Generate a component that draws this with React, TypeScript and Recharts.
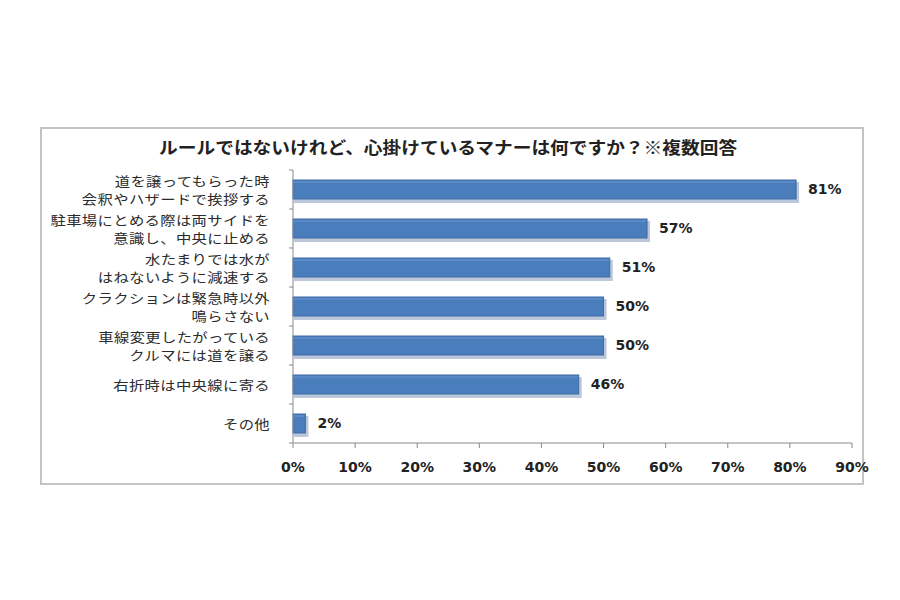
import { BarChart, Bar, XAxis, YAxis, LabelList } from "recharts"

const categories = [
  "道を譲ってもらった時\n会釈やハザードで挨拶する",
  "駐車場にとめる際は両サイドを\n意識し、中央に止める",
  "水たまりでは水が\nはねないように減速する",
  "クラクションは緊急時以外\n鳴らさない",
  "車線変更したがっている\nクルマには道を譲る",
  "右折時は中央線に寄る",
  "その他",
]
const values = [81, 57, 51, 50, 50, 46, 2]
const xTicks = [0, 10, 20, 30, 40, 50, 60, 70, 80, 90]
const title = "ルールではないけれど、心掛けているマナーは何ですか？※複数回答"

const data = categories.map((name, i) => ({ name, value: values[i] }))

const FONT = "'Noto Sans CJK JP', 'Noto Sans', sans-serif"
const NUM_FONT = "'DejaVu Sans', 'Noto Sans', sans-serif"
const BAND = 39

function CategoryTick(props: any) {
  const { x, y, payload, index } = props
  const lines = String(payload.value).split("\n")
  const lh = 18
  const start = y - ((lines.length - 1) * lh) / 2
  const tx = x - 15
  return (
    <g>
      <line x1={x + 4} x2={x + 8} y1={y - BAND / 2} y2={y - BAND / 2} stroke="#8a8a8a" />
      {index === categories.length - 1 && (
        <line x1={x + 4} x2={x + 8} y1={y + BAND / 2} y2={y + BAND / 2} stroke="#8a8a8a" />
      )}
      <g transform={`translate(${tx},0) scale(1.18,1) translate(${-tx},0)`}>
        {lines.map((l, i) => (
          <text
            key={i}
            x={tx}
            y={start + i * lh}
            textAnchor="end"
            dominantBaseline="central"
            fontSize={13}
            fill="#2b2b2b"
            fontFamily={FONT}
            letterSpacing={0.3}
          >
            {l}
          </text>
        ))}
      </g>
    </g>
  )
}

function ShadowBar(props: any) {
  const { x, y, width, height } = props
  if (!width || width <= 0) return null
  return (
    <g>
      <rect x={x + 1} y={y + 2} width={width + 2} height={height + 2} fill="#bcc8da" />
      <rect x={x} y={y} width={width} height={height} fill="#4a7dbc" stroke="#3e6ba6" strokeWidth={1} />
      <line x1={x + 1} x2={x + width - 1} y1={y + 2} y2={y + 2} stroke="#6a96ce" strokeWidth={1} />
    </g>
  )
}

export default function App() {
  return (
    <div style={{ position: "absolute", left: 0, top: 0, width: 900, height: 600, background: "#fff" }}>
      <div
        style={{
          position: "absolute",
          left: 40,
          top: 127,
          width: 820,
          height: 354,
          border: "2px solid #c4c4c4",
        }}
      />
      <div
        style={{
          position: "absolute",
          left: 40,
          top: 134,
          width: 824,
          textAlign: "center",
          fontFamily: FONT,
          fontWeight: "bold",
          fontSize: 17,
          color: "#222",
          transform: "scaleX(1.1)",
          transformOrigin: "451px 0",
        }}
      >
        {title}
      </div>
      <div style={{ position: "absolute", left: 0, top: 0 }}>
        <BarChart
          width={900}
          height={600}
          data={data}
          layout="vertical"
          barSize={19}
          margin={{ top: 170, right: 48, bottom: 127, left: 40 }}
        >
          <XAxis
            type="number"
            domain={[0, 90]}
            ticks={xTicks}
            tickFormatter={(v) => `${v}%`}
            axisLine={{ stroke: "#8a8a8a" }}
            tickLine={{ stroke: "#8a8a8a" }}
            tickSize={5}
            tickMargin={14}
            height={30}
            tick={{ fontSize: 14, fill: "#222", fontFamily: NUM_FONT, fontWeight: "bold" }}
          />
          <YAxis
            type="category"
            dataKey="name"
            width={253}
            interval={0}
            axisLine={{ stroke: "#8a8a8a" }}
            tickLine={false}
            tick={<CategoryTick />}
          />
          <Bar dataKey="value" isAnimationActive={false} shape={<ShadowBar />}>
            <LabelList
              dataKey="value"
              position="right"
              offset={12}
              formatter={(v: any) => `${v}%`}
              style={{ fontSize: 14, fill: "#222", fontFamily: NUM_FONT, fontWeight: "bold" }}
            />
          </Bar>
        </BarChart>
      </div>
    </div>
  )
}
